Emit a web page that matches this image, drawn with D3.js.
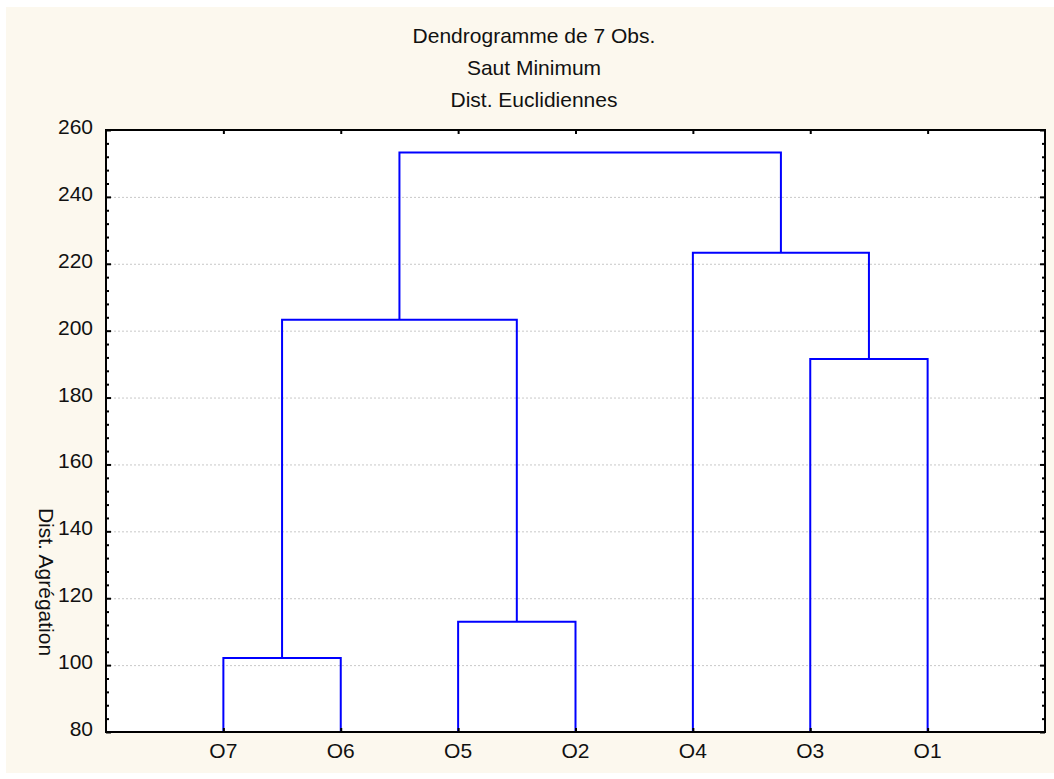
<!DOCTYPE html>
<html><head><meta charset="utf-8">
<script src="https://cdn.jsdelivr.net/npm/d3@7"></script>
<style>html,body{margin:0;padding:0;background:#fff;}svg{display:block;font-family:"Liberation Sans",Arial,sans-serif;}</style>
</head><body>
<svg id="c" width="1054" height="779"></svg>
<script>
const titleLines = ["Dendrogramme de 7 Obs.", "Saut Minimum", "Dist. Euclidiennes"];
const yLabel = "Dist. Agrégation";
const leaves = ["O7", "O6", "O5", "O2", "O4", "O3", "O1"];
const yTicks = [80, 100, 120, 140, 160, 180, 200, 220, 240, 260];
// merges: [left member, right member, height]; members are leaf names or merge ids "Mi"
const merges = [
  ["O7", "O6", 102.1],
  ["O5", "O2", 113.0],
  ["O3", "O1", 191.5],
  ["M0", "M1", 203.3],
  ["O4", "M2", 223.3],
  ["M3", "M4", 253.3]
];

const svg = d3.select("#c");
svg.append("rect").attr("x", 6).attr("y", 7).attr("width", 1048).attr("height", 766).attr("fill", "#fcf8ee");

const L = 106, R = 1045, T = 130, B = 732;
const x = d3.scaleLinear().domain([0, leaves.length + 1]).range([L, R]);
const y = d3.scaleLinear().domain([80, 260]).range([B, T]);

svg.append("rect").attr("x", L).attr("y", T).attr("width", R - L).attr("height", B - T).attr("fill", "#fff");

// grid
svg.append("g").selectAll("line").data(yTicks.filter(v => v > 80 && v < 260)).join("line")
  .attr("x1", L).attr("x2", R).attr("y1", d => y(d) + 0.5).attr("y2", d => y(d) + 0.5)
  .attr("stroke", "#c8c8c8").attr("stroke-width", 1).attr("stroke-dasharray", "2,2");

// title
svg.append("g").selectAll("text").data(titleLines).join("text")
  .attr("x", 534).attr("y", (d, i) => 43 + i * 32).attr("text-anchor", "middle")
  .attr("font-size", 21).attr("fill", "#111").text(d => d);

// dendrogram
const pos = {}, ht = {};
leaves.forEach((l, i) => { pos[l] = x(i + 1); ht[l] = 80; });
const segs = [];
merges.forEach((m, i) => {
  const [a, b, h] = m;
  const id = "M" + i;
  segs.push([pos[a], y(ht[a]), pos[a], y(h), pos[b], y(h), pos[b], y(ht[b])]);
  pos[id] = (pos[a] + pos[b]) / 2; ht[id] = h;
});
svg.append("g").selectAll("path").data(segs).join("path")
  .attr("d", s => `M${s[0]},${s[1]}L${s[2]},${s[3]}L${s[4]},${s[5]}L${s[6]},${s[7]}`)
  .attr("fill", "none").attr("stroke", "#0000ff").attr("stroke-width", 2);

// axes
const minor = d3.range(80, 260.1, 4);
const yAxisL = d3.axisRight(y).tickValues(yTicks).tickSize(5).tickFormat("");
const yAxisLm = d3.axisRight(y).tickValues(minor.filter(v => v % 20)).tickSize(3).tickFormat("");
const yAxisR = d3.axisLeft(y).tickValues(yTicks).tickSize(5).tickFormat("");
const yAxisRm = d3.axisLeft(y).tickValues(minor.filter(v => v % 20)).tickSize(3).tickFormat("");
const xTickVals = d3.range(1, leaves.length + 1);
const xAxisT = d3.axisBottom(x).tickValues(xTickVals).tickSize(4).tickFormat("");
const xAxisB = d3.axisTop(x).tickValues(xTickVals).tickSize(4).tickFormat("");
function style(g) { g.select(".domain").remove(); g.selectAll("line").attr("stroke", "#000").attr("stroke-width", 2); }
svg.append("g").attr("transform", `translate(${L},0)`).call(yAxisL).call(style);
svg.append("g").attr("transform", `translate(${L},0)`).call(yAxisLm).call(style);
svg.append("g").attr("transform", `translate(${R},0)`).call(yAxisR).call(style);
svg.append("g").attr("transform", `translate(${R},0)`).call(yAxisRm).call(style);
svg.append("g").attr("transform", `translate(0,${T})`).call(xAxisT).call(style);
svg.append("g").attr("transform", `translate(0,${B})`).call(xAxisB).call(style);

svg.append("rect").attr("x", L).attr("y", T).attr("width", R - L).attr("height", B - T)
  .attr("fill", "none").attr("stroke", "#000").attr("stroke-width", 2);

// tick labels
svg.append("g").selectAll("text").data(yTicks).join("text")
  .attr("x", 93).attr("y", d => y(d) + 4).attr("text-anchor", "end")
  .attr("font-size", 21).attr("fill", "#111").text(d => d);
svg.append("g").selectAll("text").data(leaves).join("text")
  .attr("x", (d, i) => x(i + 1)).attr("y", 758).attr("text-anchor", "middle")
  .attr("font-size", 21).attr("fill", "#111").text(d => d);

svg.append("text").attr("transform", "translate(39,582) rotate(90)")
  .attr("text-anchor", "middle").attr("font-size", 21).attr("fill", "#111").text(yLabel);
</script>
</body></html>
